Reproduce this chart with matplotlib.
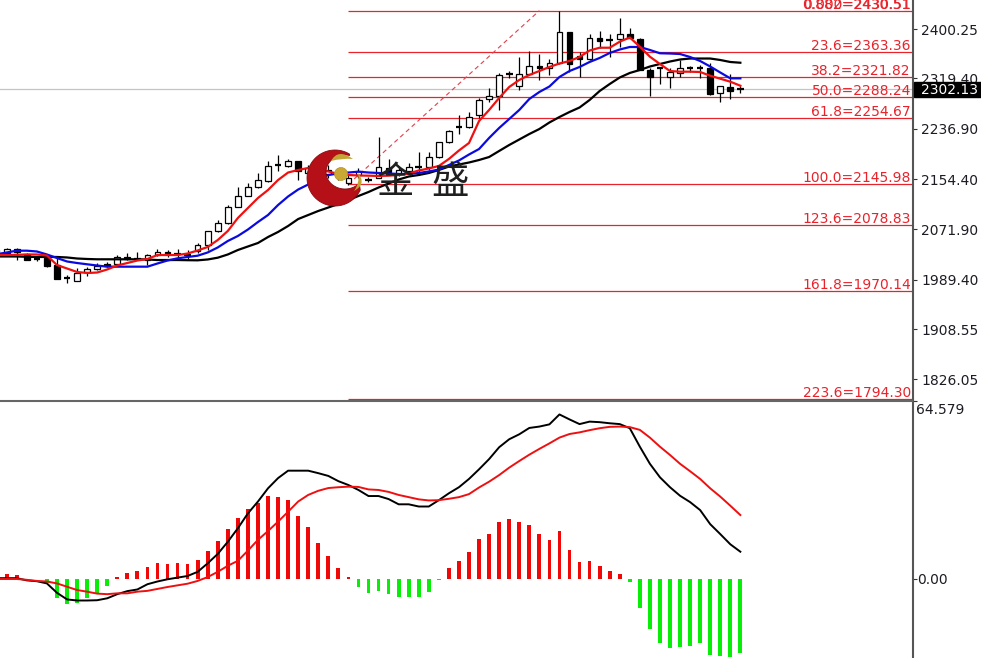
import numpy as np
import matplotlib
matplotlib.use('Agg')
import matplotlib.pyplot as plt
from matplotlib.patches import Circle, Polygon, PathPatch
from matplotlib.path import Path

W, H = 981, 658

opens = [2034, 2034, 2039, 2032, 2023, 2025, 2014, 1992, 1988, 2002,
         2007, 2015, 2015, 2026, 2024, 2022, 2030, 2035, 2032, 2030,
         2036, 2046, 2069, 2082, 2109, 2126, 2141, 2152, 2178, 2176,
         2184, 2164, 2171, 2163, 2158, 2148, 2161, 2153, 2156, 2173,
         2163, 2167, 2175, 2175, 2190, 2215, 2239, 2239, 2259, 2286,
         2291, 2327, 2307, 2327, 2340, 2337, 2344, 2395, 2356, 2351,
         2385, 2382, 2384, 2393, 2384, 2334, 2336, 2322, 2329, 2337,
         2337, 2336, 2295, 2306, 2302]
highs = [2040, 2041, 2041, 2033, 2027, 2030, 2029, 1997, 2009, 2011,
         2017, 2019, 2030, 2033, 2035, 2032, 2040, 2038, 2039, 2038,
         2050, 2069, 2087, 2112, 2141, 2148, 2164, 2184, 2194, 2187,
         2184, 2178, 2179, 2178, 2173, 2161, 2173, 2158, 2223, 2187,
         2176, 2181, 2199, 2199, 2216, 2235, 2259, 2264, 2287, 2304,
         2328, 2332, 2354, 2365, 2359, 2351, 2430, 2395, 2363, 2393,
         2397, 2393, 2418, 2402, 2386, 2336, 2337, 2336, 2350, 2340,
         2341, 2344, 2307, 2327, 2307]
lows = [2030, 2032, 2022, 2022, 2020, 2010, 1990, 1984, 1987, 1995,
        2006, 2011, 2014, 2022, 2022, 2014, 2028, 2026, 2024, 2023,
        2033, 2038, 2068, 2081, 2108, 2126, 2140, 2150, 2168, 2175,
        2153, 2161, 2159, 2156, 2153, 2145, 2156, 2150, 2156, 2161,
        2159, 2164, 2161, 2169, 2189, 2214, 2228, 2238, 2255, 2281,
        2267, 2320, 2300, 2325, 2317, 2325, 2343, 2330, 2322, 2350,
        2369, 2354, 2371, 2385, 2333, 2291, 2311, 2304, 2321, 2330,
        2320, 2293, 2281, 2285, 2296]
closes = [2038, 2039, 2035, 2022, 2023, 2012, 1991, 1992, 2000, 2007,
          2012, 2012, 2026, 2024, 2024, 2030, 2035, 2032, 2032, 2030,
          2047, 2069, 2082, 2109, 2126, 2141, 2153, 2176, 2178, 2184,
          2168, 2173, 2164, 2169, 2166, 2156, 2168, 2153, 2175, 2166,
          2169, 2175, 2175, 2190, 2215, 2233, 2239, 2257, 2284, 2291,
          2325, 2327, 2327, 2340, 2337, 2344, 2395, 2343, 2351, 2385,
          2381, 2382, 2393, 2385, 2334, 2322, 2336, 2330, 2336, 2337,
          2337, 2294, 2307, 2299, 2302]

ma_slow = [2027.5, 2027.5, 2027.5, 2027, 2026.7, 2026.7, 2026.7, 2025.9, 2024.2, 2023.4,
           2022.9, 2022.9, 2022.9, 2022.9, 2022.9, 2022.6, 2021.7, 2021.7, 2021.7, 2021.4,
           2021.2, 2022.6, 2025.5, 2030.8, 2038.1, 2043.9, 2049.6, 2059.4, 2067.7, 2077.5,
           2088.9, 2095.5, 2102.1, 2107.8, 2113.6, 2120.1, 2126.7, 2133.2, 2140.6, 2147.2,
           2153.7, 2158.6, 2161.1, 2164.4, 2169.3, 2175, 2178.3, 2181.6, 2185.7, 2190.6,
           2200.5, 2210.3, 2219.3, 2228.3, 2236.5, 2247.2, 2256.2, 2264.4, 2271.8, 2284.1,
           2298.8, 2310.3, 2321, 2328.4, 2333.3, 2339, 2343.1, 2347.2, 2350.5, 2352.1,
           2352.1, 2352.1, 2349.7, 2346.4, 2345.2]
ma_mid = [2031.1, 2034.1, 2037, 2037, 2035.7, 2030.8, 2025, 2019.3, 2016.8, 2014.7,
          2012.7, 2010.8, 2010.8, 2010.8, 2010.8, 2010.8, 2016, 2020.9, 2024.5, 2026.7,
          2028.8, 2034.1, 2042.3, 2052.9, 2061.1, 2071.7, 2084, 2095.5, 2111.9, 2125.9,
          2137.3, 2145.5, 2154.6, 2161.1, 2163.6, 2165.2, 2166.5, 2165.2, 2164.4, 2163.6,
          2162.8, 2162.8, 2164.4, 2166.9, 2170.1, 2177.5, 2184.9, 2194.7, 2203.7, 2221.8,
          2238.2, 2252.9, 2267.7, 2285.7, 2297.2, 2306.2, 2321.8, 2331.6, 2338.2, 2346.4,
          2353, 2361.2, 2366.9, 2371, 2371, 2366.1, 2360.7, 2360.3, 2359.5, 2354.6,
          2348, 2339, 2329.2, 2319.6, 2319.6]
ma_fast = [2029.9, 2029.9, 2030.3, 2030.8, 2030.8, 2029.1, 2013.5, 2007.8, 2002.1, 2000.4,
           2001.2, 2006.2, 2012.7, 2016.8, 2020.9, 2023.4, 2029.9, 2029.9, 2029.9, 2032.4,
           2037.3, 2043.1, 2054.5, 2069.3, 2090.6, 2107, 2123.4, 2136.5, 2152.9, 2165.2,
           2169.3, 2172.6, 2170.1, 2166.9, 2162.8, 2161.1, 2160.3, 2160, 2159.5, 2160,
           2161.1, 2163.6, 2168.5, 2171.8, 2175.9, 2187.4, 2201.3, 2213.6, 2249.6, 2267.7,
           2287.4, 2305.4, 2316.9, 2325.1, 2331.6, 2338.2, 2343.9, 2348, 2354.6, 2365.2,
           2369.8, 2369.8, 2379.7, 2386.6, 2371.5, 2355.1, 2343.1, 2331.6, 2330.5, 2330.5,
           2330, 2323.9, 2319, 2314.1, 2307.5]

macd_hist = [0, 1.7, 1.4, 0, 0, -1.4, -7.0, -9.1, -8.8, -6.9,
             -5.2, -2.6, 0.8, 2.2, 2.9, 4.3, 5.8, 5.6, 5.8, 5.6,
             6.9, 10.3, 13.7, 18.1, 22.1, 25.4, 27.5, 30.1, 29.7, 28.5,
             22.9, 18.9, 12.9, 8.4, 4.0, 0.7, -2.9, -5.1, -4.4, -5.6,
             -6.6, -6.4, -6.4, -4.8, -0.5, 4.0, 6.5, 9.9, 14.4, 16.5,
             20.6, 21.7, 20.6, 19.6, 16.5, 14.1, 17.4, 10.7, 6.1, 6.5,
             4.7, 2.9, 1.8, -1.1, -10.4, -18.1, -23.3, -25.1, -24.8, -24.3,
             -23.3, -27.5, -27.9, -28.2, -26.9]
macd_line = [0.3, 0.3, 0.3, -0.5, -0.8, -1.6, -5.0, -7.4, -7.8, -7.8,
             -7.7, -7.0, -5.5, -4.4, -3.8, -1.9, -0.9, -0.1, 0.5, 1.1,
             2.6, 5.7, 9.1, 13.5, 18.4, 23.8, 28.1, 32.9, 36.6, 39.3,
             39.3, 39.3, 38.4, 37.4, 35.5, 34.1, 32.3, 30.1, 30.1, 29.0,
             27.1, 27.1, 26.3, 26.3, 28.6, 31.1, 33.3, 36.3, 39.8, 43.5,
             47.8, 50.7, 52.5, 54.8, 55.3, 56.1, 59.7, 57.9, 56.2, 57.1,
             56.9, 56.5, 56.2, 54.7, 48.0, 41.8, 36.9, 33.3, 30.2, 27.9,
             25.0, 19.9, 16.3, 12.6, 9.9]
macd_signal = [0, 0, 0, -0.3, -0.7, -0.9, -1.6, -2.8, -4.0, -4.6,
               -5.3, -5.5, -5.2, -5.2, -4.6, -4.3, -3.6, -2.9, -2.3, -1.7,
               -0.7, 0.7, 2.6, 4.8, 6.6, 10.3, 14.2, 17.4, 20.8, 24.4,
               28.1, 30.5, 32.0, 33.0, 33.3, 33.5, 33.4, 32.5, 32.3, 31.6,
               30.5, 29.7, 28.9, 28.5, 28.6, 29.1, 29.7, 30.8, 33.2, 35.3,
               37.7, 40.4, 42.8, 45.1, 47.2, 49.2, 51.3, 52.6, 53.2, 54.0,
               54.7, 55.2, 55.3, 55.1, 54.1, 51.3, 48.0, 45.0, 41.8, 39.1,
               36.3, 32.9, 29.9, 26.6, 23.2]

fib_levels = [2430.51, 2363.36, 2321.82, 2288.24, 2254.67, 2145.98, 2078.83, 1970.14, 1794.30]
fib_names = ['0.882', '23.6', '38.2', '50.0', '61.8', '100.0', '123.6', '161.8', '223.6']
price_ticks = [2400.25, 2319.40, 2236.90, 2154.40, 2071.90, 1989.40, 1908.55, 1826.05]
last_price = 2302.13

RED = '#e8232b'
TEXT = '#1c1c24'

plt.rcParams['font.family'] = ['DejaVu Sans']
fig = plt.figure(figsize=(W / 100, H / 100), dpi=100)
ax = fig.add_axes([0, (H - 399.5) / H, 912.5 / W, 399.5 / H])
ax2 = fig.add_axes([0, 0, 912.5 / W, (H - 400.5) / H])
over = fig.add_axes([0, 0, 1, 1], zorder=5)
over.set_xlim(0, W)
over.set_ylim(H, 0)
over.axis('off')
over.patch.set_alpha(0)

xs = np.arange(len(closes))
for a in (ax, ax2):
    a.set_xlim(0.333, 91.13)
    a.set_xticks([])
    a.yaxis.tick_right()
    a.tick_params(axis='y', length=3, width=0.8, color='#333333', pad=3.4,
                  labelsize=10, labelcolor=TEXT)
    for side in ('left', 'bottom', 'top'):
        a.spines[side].set_visible(False)
    a.spines['right'].set_color('#555555')
    a.spines['right'].set_linewidth(1.5)

# price pane
ax.set_ylim(1793.0, 2448.05)
ax.set_yticks(price_ticks)
ax.set_yticklabels(['%.2f' % t for t in price_ticks])

ax.axhline(last_price, color='#c4c4c4', lw=0.9, zorder=1)
ax.hlines(fib_levels, 35, 91.13, color=RED, lw=0.9, zorder=1)
ax.plot([35, 54], [fib_levels[5], fib_levels[0]], color='#e0404a', lw=0.8,
        dashes=(4, 3), zorder=1)

for name, lev in zip(fib_names, fib_levels):
    ax.annotate('%s=%.2f' % (name, lev), (91.13, lev), xytext=(-1.2, 1.5),
                textcoords='offset points', ha='right', va='baseline',
                color=RED, fontsize=10, annotation_clip=False)
ax.annotate('0.000=%.2f' % fib_levels[0], (91.13, fib_levels[0]), xytext=(-1.2, 1.5),
            textcoords='offset points', ha='right', va='baseline', color=RED, fontsize=10)

for i in xs:
    o, h, l, c = opens[i], highs[i], lows[i], closes[i]
    ax.vlines(i, l, h, color='black', lw=0.9, zorder=2)
    if o == c:
        ax.hlines(c, i - 0.33, i + 0.33, color='black', lw=1.6, zorder=2)
    elif c > o:
        ax.bar(i, c - o, bottom=o, width=0.56, color='white', edgecolor='black',
               linewidth=0.9, zorder=3)
    else:
        ax.bar(i, o - c, bottom=c, width=0.56, color='black', edgecolor='black',
               linewidth=0.9, zorder=3)

ax.plot(xs, ma_slow, color='black', lw=1.6, zorder=4)
ax.plot(xs, ma_mid, color='#0a0ae0', lw=1.6, zorder=4)
ax.plot(xs, ma_fast, color='#f01010', lw=1.6, zorder=4)

# macd pane
ax2.set_ylim(-28.66, 64.76)
ax2.set_yticks([64.579, 0])
ax2.set_yticklabels(['', ''])
ax2.spines['top'].set_visible(True)
ax2.spines['top'].set_color('#666666')
ax2.spines['top'].set_linewidth(1.5)

hist = np.array(macd_hist)
ax2.bar(xs, hist, width=0.37, color=np.where(hist >= 0, '#f00808', '#08ee08'), zorder=2)
ax2.plot(xs, macd_line, color='black', lw=1.4, zorder=3)
ax2.plot(xs, macd_signal, color='#ee1010', lw=1.4, zorder=4)

# right side labels
over.text(916, 410, '64.579', color=TEXT, fontsize=10, va='center', ha='left')
over.text(917, 579.5, '0.00', color=TEXT, fontsize=10, va='center', ha='left')
over.text(916, 663.5, '-33.206', color=TEXT, fontsize=10, va='center', ha='left')
over.add_patch(plt.Rectangle((913.5, 82), 68, 14.5, color='black', zorder=3))
over.text(921, 89.5, '%.2f' % last_price, color='white', fontsize=10, va='center',
          ha='left', zorder=4)

# logo
t = np.linspace(0, 1, 60)
top_out, bot_out = np.arctan2(-25, 15), np.arctan2(12, 25)
top_in, bot_in = np.arctan2(-19.4, 5), np.arctan2(13, 15)
outer_ang = top_out - t * (2 * np.pi - (bot_out - top_out))
inner_ang = bot_in + t * (2 * np.pi - (bot_in - top_in))
outer = np.c_[335 + 28 * np.cos(outer_ang), 178 + 28 * np.sin(outer_ang)]
inner = np.c_[345 + 19 * np.cos(inner_ang), 172 + 17 * np.sin(inner_ang)]
over.add_patch(Polygon(np.r_[outer, inner], closed=True, fc='#b50f17', ec='#8a0a10',
                       lw=0.6, zorder=2))
over.add_patch(Circle((341, 174), 6.5, fc='#c9a933', ec='#b6952a', lw=0.5, zorder=3))
codes = [Path.MOVETO, Path.CURVE3, Path.CURVE3, Path.CURVE3, Path.CURVE3]
gold_a = Path([(331, 161), (338, 148), (353, 159), (342, 158), (331, 161)], codes)
gold_b = Path([(358, 173), (367, 184), (354, 191), (360, 183), (358, 173)], codes)
over.add_patch(PathPatch(gold_a, fc='#c2a535', ec='none', zorder=3))
over.add_patch(PathPatch(gold_b, fc='#c2a535', ec='none', zorder=3))
for cx, ch in zip([395.5, 450.5], ['金', '盛']):
    over.text(cx, 182.5, ch, family=['Noto Sans CJK SC', 'DejaVu Sans'], fontsize=27,
              weight='medium', color='#1f1f1f', ha='center', va='center', zorder=4)

fig.savefig('out.png', dpi=100, facecolor='white')
